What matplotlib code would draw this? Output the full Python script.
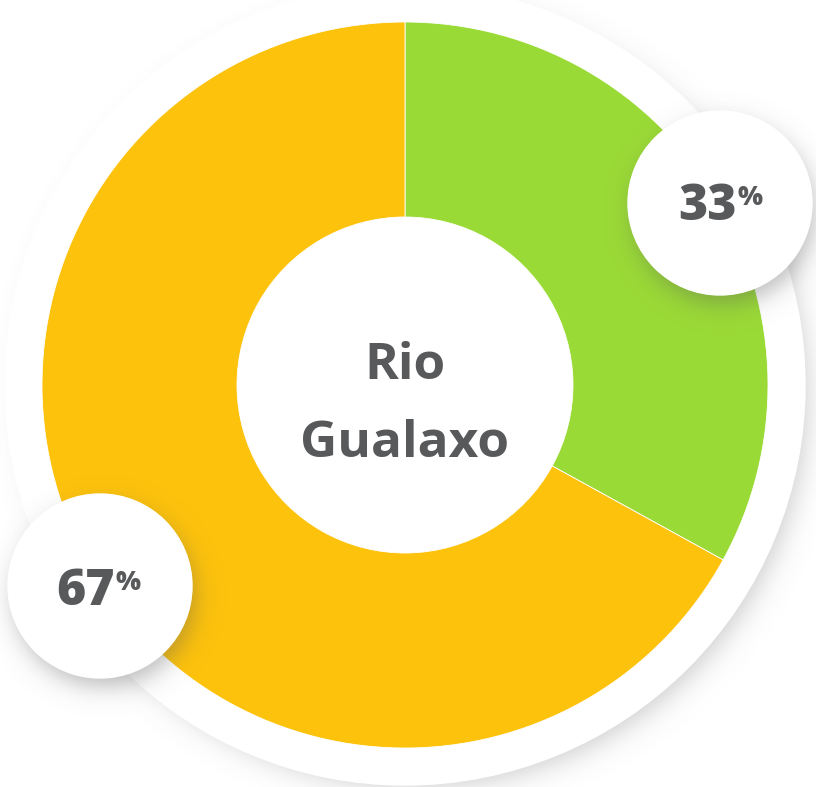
import numpy as np
import matplotlib.pyplot as plt
from matplotlib.patches import Circle

# share of each class around the ring
labels = ["Classe A", "Classe B"]
shares = [33, 67]
colors = ["#9ADA36", "#FDC20C"]
title_lines = ["Rio", "Gualaxo"]

W, H = 816, 787
TEXT = "#58595B"
FONT = ["Open Sans", "DejaVu Sans"]


def y(v):
    # pixel rows counted from the top -> data coordinates
    return H - v


def soft_shadow(ax, cx, cy, r, spread, alpha, z):
    xx, yy = np.meshgrid(np.arange(W) + 0.5, np.arange(H) + 0.5)
    d = np.hypot(xx - cx, yy - cy)
    a = alpha / (1.0 + np.exp((d - r) / spread))
    img = np.zeros((H, W, 4))
    img[..., :3] = 0.35
    img[..., 3] = a
    ax.imshow(img, extent=(0, W, 0, H), origin="upper", zorder=z,
              interpolation="bilinear")


fig = plt.figure(figsize=(W / 100, H / 100), dpi=100)
ax = fig.add_axes([0, 0, 1, 1])

cx, cy = 405, 385
r_out, r_in = 363, 168

# white backing disc with its shadow
soft_shadow(ax, cx + 11, cy + 11, 391, 8, 0.3, 0)
ax.add_patch(Circle((cx, y(cy)), 400, color="white", zorder=1))

ax.pie(shares, colors=colors, startangle=90, counterclock=False,
       radius=r_out, center=(cx, y(cy)),
       wedgeprops=dict(width=r_out - r_in, edgecolor="white", linewidth=0.6))
for w in ax.patches[-2:]:
    w.set_zorder(2)

# value bubbles
bubbles = [(720, 203), (100, 586)]
for bx, by in bubbles:
    soft_shadow(ax, bx + 4, by + 10, 90, 7, 0.4, 3)
    ax.add_patch(Circle((bx, y(by)), 92, color="white", zorder=4))

value_pos = [(737, 220), (115, 605)]
for (tx, ty), v in zip(value_pos, shares):
    ax.text(tx, y(ty), f"{v}", ha="right", va="baseline", fontsize=36,
            fontweight="heavy", color=TEXT, family=FONT, zorder=5)
    ax.text(tx + 1, y(ty - 35), "%", ha="left", va="top", fontsize=19,
            fontweight="heavy", color=TEXT, family=FONT, zorder=5)

ax.text(cx, y(379), title_lines[0], ha="center", va="baseline", fontsize=37,
        fontweight="bold", color=TEXT, family=FONT, zorder=5)
ax.text(cx, y(457), title_lines[1], ha="center", va="baseline", fontsize=37,
        fontweight="bold", color=TEXT, family=FONT, zorder=5)

ax.set_xlim(0, W)
ax.set_ylim(0, H)
ax.set_aspect("auto")
ax.axis("off")

fig.savefig("out.png", dpi=100, facecolor="white")
